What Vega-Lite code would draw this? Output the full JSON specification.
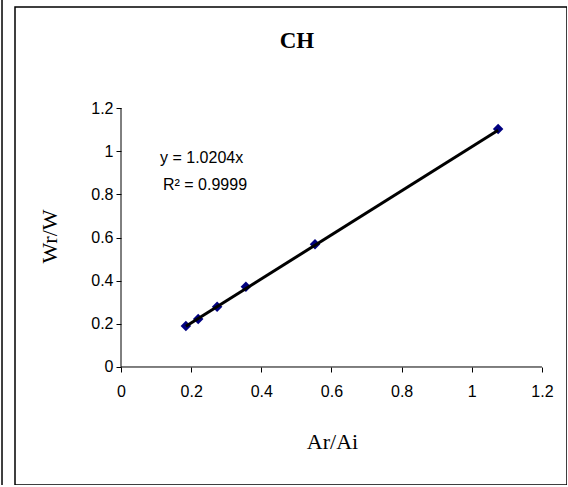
{
  "$schema": "https://vega.github.io/schema/vega-lite/v6.json",
  "width": 552,
  "height": 478,
  "autosize": {"type": "none"},
  "padding": {"left": 15, "top": 7, "right": 0, "bottom": 0},
  "background": "white",
  "config": {
    "view": {"stroke": "black", "strokeWidth": 1.5, "fill": "white"},
    "axis": {"grid": false, "domain": false, "tickColor": "black", "tickSize": 5, "labelColor": "black", "labelFont": "Liberation Sans", "labelFontSize": 16, "titleColor": "black", "titleFont": "Liberation Serif", "titleFontWeight": "normal", "titleFontSize": 22}
  },
  "datasets": {
    "points": [
      {"x": 0.185, "y": 0.19},
      {"x": 0.22, "y": 0.222},
      {"x": 0.274, "y": 0.279},
      {"x": 0.356, "y": 0.372},
      {"x": 0.553, "y": 0.569},
      {"x": 1.075, "y": 1.103}
    ],
    "trend": [
      {"x": 0.185, "y": 0.1888},
      {"x": 1.075, "y": 1.0969}
    ]
  },
  "layer": [
    {
      "data": {"name": "points"},
      "mark": {"type": "point", "shape": "diamond", "filled": true, "color": "#000080", "size": 110, "opacity": 1},
      "encoding": {
        "x": {"field": "x", "type": "quantitative", "scale": {"domain": [-0.30217, 1.27138], "nice": false, "zero": false},
          "axis": {"orient": "bottom", "offset": -118, "values": [0, 0.2, 0.4, 0.6, 0.8, 1, 1.2], "format": "~g", "labelPadding": 11, "title": "Ar/Ai", "titleX": 317, "titleY": 81, "titleBaseline": "alphabetic", "titleAlign": "center"}},
        "y": {"field": "y", "type": "quantitative", "scale": {"domain": [-0.54673, 1.66798], "nice": false, "zero": false},
          "axis": {"orient": "left", "offset": -106, "values": [0, 0.2, 0.4, 0.6, 0.8, 1, 1.2], "format": "~g", "labelPadding": 3, "title": "Wr/W", "titleX": -72, "titleY": 229, "titleBaseline": "middle", "titleAlign": "center", "titleAngle": -90}}
      }
    },
    {
      "data": {"name": "trend"},
      "mark": {"type": "line", "color": "black", "strokeWidth": 3},
      "encoding": {
        "x": {"field": "x", "type": "quantitative"},
        "y": {"field": "y", "type": "quantitative"}
      }
    },
    {
      "data": {"values": [{"k": 1}]},
      "mark": {"type": "rule", "color": "black", "strokeWidth": 1},
      "encoding": {
        "x": {"datum": 0, "type": "quantitative"},
        "x2": {"datum": 1.2},
        "y": {"datum": 0, "type": "quantitative"}
      }
    },
    {
      "data": {"values": [{"k": 1}]},
      "mark": {"type": "rule", "color": "black", "strokeWidth": 1},
      "encoding": {
        "x": {"datum": 0, "type": "quantitative"},
        "y": {"datum": 0, "type": "quantitative"},
        "y2": {"datum": 1.2}
      }
    },
    {
      "data": {"values": [{"k": 1}]},
      "mark": {"type": "rule", "color": "black", "strokeWidth": 1.5, "clip": false},
      "encoding": {
        "x": {"datum": -0.3392, "type": "quantitative"},
        "y": {"datum": -0.556, "type": "quantitative"},
        "y2": {"datum": 1.7004}
      }
    },
    {
      "data": {"values": [{"k": 1}]},
      "mark": {"type": "text", "text": "y = 1.0204x", "align": "left", "baseline": "alphabetic", "font": "Liberation Sans", "fontSize": 16, "color": "black"},
      "encoding": {
        "x": {"datum": 0.1112, "type": "quantitative"},
        "y": {"datum": 0.9452, "type": "quantitative"}
      }
    },
    {
      "data": {"values": [{"k": 1}]},
      "mark": {"type": "text", "text": "R² = 0.9999", "align": "left", "baseline": "alphabetic", "font": "Liberation Sans", "fontSize": 16, "color": "black"},
      "encoding": {
        "x": {"datum": 0.1197, "type": "quantitative"},
        "y": {"datum": 0.8201, "type": "quantitative"}
      }
    },
    {
      "data": {"values": [{"k": 1}]},
      "mark": {"type": "text", "text": "CH", "align": "center", "baseline": "alphabetic", "font": "Liberation Serif", "fontWeight": "bold", "fontSize": 23, "color": "black"},
      "encoding": {
        "x": {"datum": 0.5017, "type": "quantitative"},
        "y": {"datum": 1.478, "type": "quantitative"}
      }
    }
  ]
}
